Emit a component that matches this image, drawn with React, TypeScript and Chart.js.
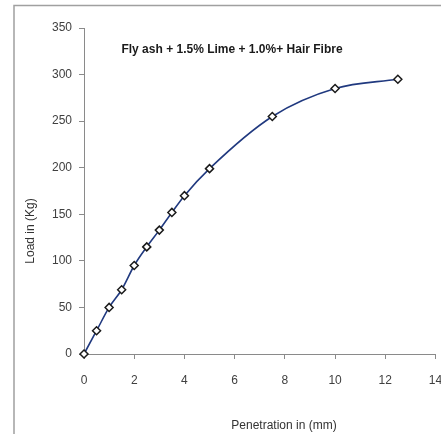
import React, { useEffect, useRef } from "react";
import { Chart, registerables } from "chart.js";

Chart.register(...registerables);

const penetration = [0, 0.5, 1, 1.5, 2, 2.5, 3, 3.5, 4, 5, 7.5, 10, 12.5];
const load = [0, 25, 50, 69, 95, 115, 133, 152, 170, 199, 255, 285, 295];
const xTicks = [0, 2, 4, 6, 8, 10, 12, 14];
const yTicks = [0, 50, 100, 150, 200, 250, 300, 350];
const chartTitle = "Fly ash + 1.5% Lime + 1.0%+ Hair Fibre";
const xTitle = "Penetration in (mm)";
const yTitle = "Load in (Kg)";

const FONT = "'Liberation Sans', Arial, sans-serif";

export default function App() {
  const ref = useRef<HTMLCanvasElement>(null);
  useEffect(() => {
    if (!ref.current) return;
    const decor = {
      id: "decor",
      beforeDraw(chart: any) {
        const ctx = chart.ctx;
        ctx.save();
        ctx.fillStyle = "#ffffff";
        ctx.fillRect(0, 0, chart.width, chart.height);
        ctx.strokeStyle = "#a0a0a0";
        ctx.lineWidth = 1.5;
        ctx.beginPath();
        ctx.moveTo(14, 434);
        ctx.lineTo(14, 5.5);
        ctx.lineTo(441, 5.5);
        ctx.stroke();
        ctx.restore();
      },
      afterDraw(chart: any) {
        const ctx = chart.ctx;
        const a = chart.chartArea;
        ctx.save();
        ctx.fillStyle = "#1a1a1a";
        ctx.font = `bold 12px ${FONT}`;
        ctx.textAlign = "center";
        ctx.textBaseline = "middle";
        ctx.fillText(chartTitle, 232, a.top + 22);
        ctx.fillStyle = "#333333";
        ctx.font = `12px ${FONT}`;
        ctx.fillText(xTitle, 284, 426);
        ctx.translate(31, 231);
        ctx.rotate(-Math.PI / 2);
        ctx.fillText(yTitle, 0, 0);
        ctx.restore();
      },
    };
    const chart = new Chart(ref.current, {
      type: "line",
      data: {
        datasets: [
          {
            data: penetration.map((x, i) => ({ x, y: load[i] })),
            borderColor: "#20397f",
            borderWidth: 1.6,
            tension: 0.4,
            cubicInterpolationMode: "monotone",
            pointStyle: "rectRot",
            pointRadius: 4,
            pointBorderColor: "#1a1a1a",
            pointBackgroundColor: "#ffffff",
            pointBorderWidth: 1.5,
            fill: false,
            clip: false,
          },
        ],
      },
      options: {
        animation: false,
        responsive: false,
        layout: { padding: { left: 0, right: 5, top: 28, bottom: 0 } },
        plugins: { legend: { display: false }, tooltip: { enabled: false }, title: { display: false } },
        scales: {
          x: {
            type: "linear",
            min: 0,
            max: 14,
            afterBuildTicks: (s: any) => {
              s.ticks = xTicks.map((v) => ({ value: v }));
            },
            afterFit: (s: any) => {
              s.height = 81;
              s.paddingLeft = 0;
              s.paddingRight = 0;
            },
            border: { color: "#8a8a8a", width: 1 },
            grid: { drawOnChartArea: false, color: "#8a8a8a", tickLength: 5 },
            ticks: { color: "#404040", font: { family: FONT, size: 12 }, padding: 14, maxRotation: 0 },
          },
          y: {
            type: "linear",
            min: 0,
            max: 350,
            afterBuildTicks: (s: any) => {
              s.ticks = yTicks.map((v) => ({ value: v }));
            },
            afterFit: (s: any) => {
              s.width = 84;
              s.paddingTop = 0;
              s.paddingBottom = 0;
            },
            border: { color: "#8a8a8a", width: 1 },
            grid: { drawOnChartArea: false, color: "#8a8a8a", tickLength: 5 },
            ticks: { color: "#404040", font: { family: FONT, size: 12 }, padding: 7 },
          },
        },
      },
      plugins: [decor],
    } as any);
    return () => chart.destroy();
  }, []);
  return (
    <div style={{ position: "absolute", left: 0, top: 0, width: 441, height: 435 }}>
      <canvas ref={ref} width={441} height={435} />
    </div>
  );
}
